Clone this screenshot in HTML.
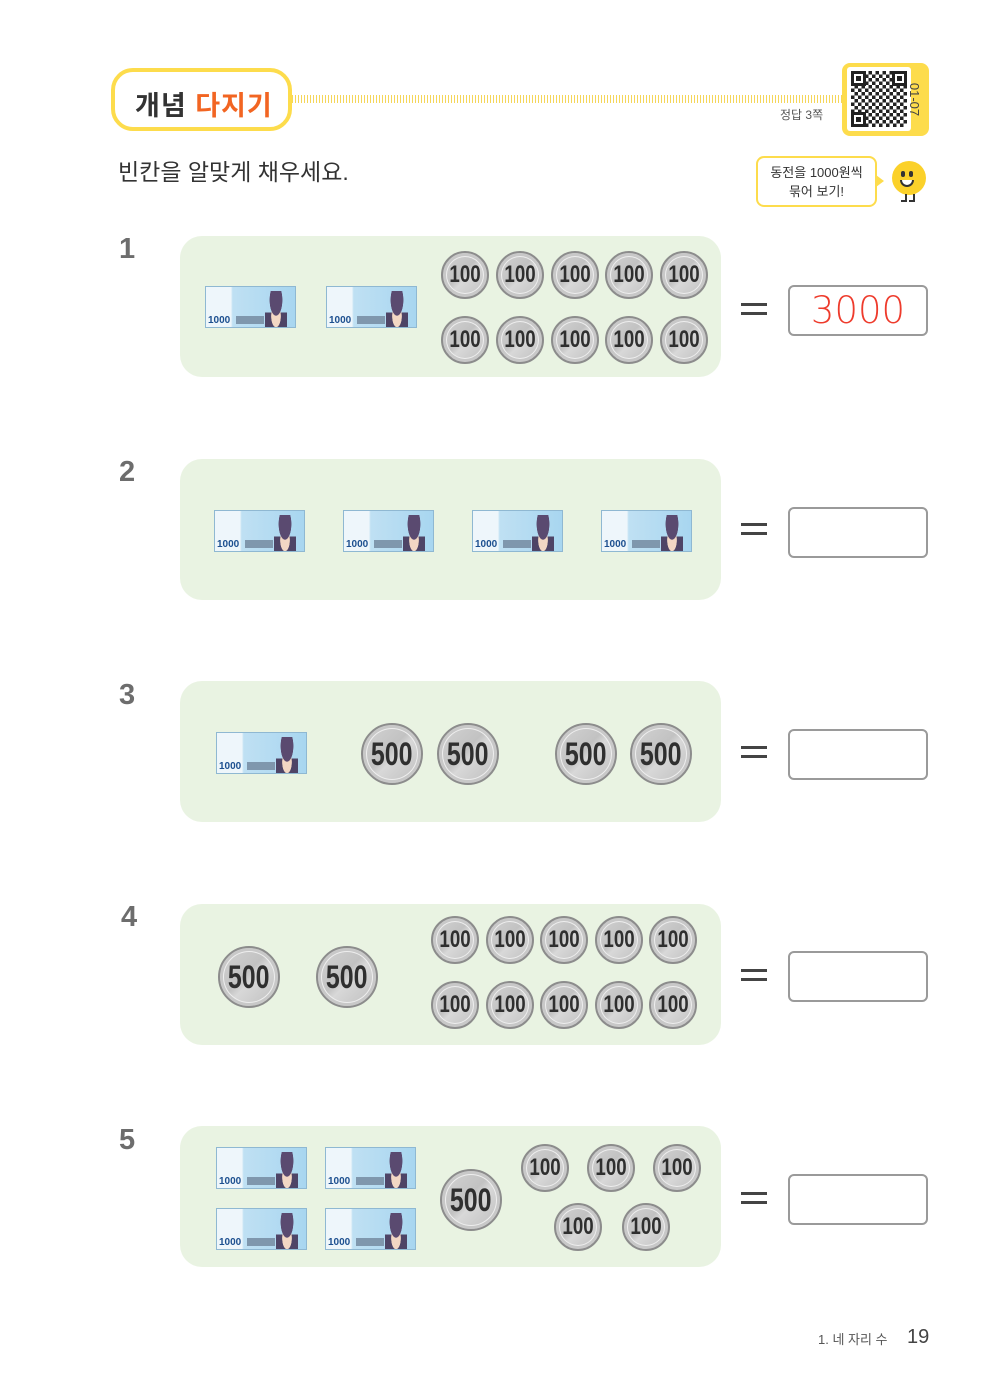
<!DOCTYPE html>
<html><head><meta charset="utf-8">
<style>
*{margin:0;padding:0;box-sizing:border-box}
body{width:990px;height:1400px;background:#fff;position:relative;overflow:hidden;font-family:"Liberation Sans","Noto Sans CJK KR",sans-serif;}
.a{position:absolute}
.panel{position:absolute;left:180px;width:541px;height:141px;background:#e9f3e2;border-radius:22px}
.num{position:absolute;left:119px;font-size:29px;font-weight:bold;color:#6d6d6d}
.eq{position:absolute;left:741px;width:26px;height:12px;border-top:3px solid #444;border-bottom:3px solid #444}
.box{position:absolute;left:788px;width:140px;height:51px;border:2px solid #9a9a9a;border-radius:6px;background:#fff}
.note{position:absolute;width:91px;height:42px;border:1px solid #8fb8d2;background:linear-gradient(90deg,#eef6fb 0,#eef6fb 28%,#bfe0f3 30%,#a8d6f0 100%);overflow:hidden}
.note b{position:absolute;left:2px;bottom:1px;font-size:10px;color:#1c4f8f;font-weight:bold}
.note i{position:absolute;right:8px;top:4px;width:22px;height:36px;background:radial-gradient(ellipse at 50% 25%,#5a4a70 0 40%,transparent 42%),radial-gradient(ellipse at 50% 70%,#f2d7c4 0 30%,transparent 32%),linear-gradient(#fff0 60%,#4e4466 60%)}
.note u{position:absolute;left:30px;bottom:3px;width:28px;height:8px;background:#7f97ad;text-decoration:none}
.coin{position:absolute;border-radius:50%;background:linear-gradient(135deg,#d4d4d4 0,#c2c2c2 45%,#d8d8d8 55%,#bdbdbd 100%);border:2px solid #8c8c8c;box-shadow:inset 0 0 0 3px #c8c8c8,inset 0 0 0 4px #eee;display:flex;align-items:center;justify-content:center;font-family:"Liberation Sans",sans-serif;font-weight:bold;color:#2f2f2f}
.coin span{display:inline-block;transform:scaleX(0.78)}
.c1{width:48px;height:48px;font-size:24px}
.c5{width:62px;height:62px;font-size:32px}
</style></head><body>

<div class="a" style="left:292px;top:95px;width:552px;height:8px;background:repeating-linear-gradient(90deg,#f5d65a 0 1px,#fff 1px 3px)"></div>
<div class="a" style="left:111px;top:68px;width:181px;height:63px;border:4px solid #fddc4c;border-radius:22px;background:#fff;font-size:27px;font-weight:bold;color:#333;padding:12px 0 0 20px;letter-spacing:1px">개념 <span style="color:#f26522">다지기</span></div>
<div class="a" style="left:780px;top:106px;font-size:12px;color:#555">정답 3쪽</div>
<div class="a" style="left:842px;top:63px;width:87px;height:73px;background:#fddc4c;border-radius:8px"></div>
<div class="a" style="left:847px;top:67px;width:64px;height:64px;background:#fff;border-radius:3px"></div>
<div class="a" style="left:851px;top:71px;width:56px;height:56px;background:repeating-conic-gradient(#222 0 25%,#fff 0 50%) 0 0/7px 7px"></div>
<div class="a" style="left:851px;top:71px;width:15px;height:15px;border:3px solid #222;background:#fff;box-shadow:inset 0 0 0 2px #fff,inset 0 0 0 6px #222"></div>
<div class="a" style="left:892px;top:71px;width:15px;height:15px;border:3px solid #222;background:#fff;box-shadow:inset 0 0 0 2px #fff,inset 0 0 0 6px #222"></div>
<div class="a" style="left:851px;top:112px;width:15px;height:15px;border:3px solid #222;background:#fff;box-shadow:inset 0 0 0 2px #fff,inset 0 0 0 6px #222"></div>
<div class="a" style="left:898px;top:92px;font-size:13px;color:#444;transform:rotate(90deg);transform-origin:center">01-07</div>

<div class="a" style="left:118px;top:153px;font-size:23px;color:#333">빈칸을 알맞게 채우세요.</div>

<div class="a" style="left:756px;top:156px;width:121px;height:51px;border:2px solid #fddc4c;border-radius:8px;background:#fff;font-size:13px;color:#333;text-align:center;line-height:19px;padding-top:5px">동전을 1000원씩<br>묶어 보기!</div>
<div class="a" style="left:876px;top:175px;width:0;height:0;border-top:6px solid transparent;border-bottom:6px solid transparent;border-left:8px solid #fddc4c"></div>
<div class="a" style="left:892px;top:161px;width:34px;height:34px;border-radius:50%;background:#fbd12a"></div>
<div class="a" style="left:901px;top:171px;width:4px;height:6px;background:#333;border-radius:2px"></div>
<div class="a" style="left:909px;top:171px;width:4px;height:6px;background:#333;border-radius:2px"></div>
<div class="a" style="left:900px;top:180px;width:14px;height:7px;border:2px solid #333;border-top:none;border-radius:0 0 7px 7px;background:#fff"></div>
<div class="a" style="left:901px;top:194px;width:6px;height:8px;border-right:2px solid #333;border-bottom:2px solid #333"></div>
<div class="a" style="left:909px;top:194px;width:6px;height:8px;border-right:2px solid #333;border-bottom:2px solid #333"></div>

<div class="num" style="top:233px">1</div>
<div class="panel" style="top:236px"></div>
<div class="note" style="left:205px;top:286px"><b>1000</b><u></u><i></i></div>
<div class="note" style="left:326px;top:286px"><b>1000</b><u></u><i></i></div>
<div class="coin c1" style="left:441px;top:251px"><span>100</span></div><div class="coin c1" style="left:496px;top:251px"><span>100</span></div><div class="coin c1" style="left:551px;top:251px"><span>100</span></div><div class="coin c1" style="left:605px;top:251px"><span>100</span></div><div class="coin c1" style="left:660px;top:251px"><span>100</span></div>
<div class="coin c1" style="left:441px;top:316px"><span>100</span></div><div class="coin c1" style="left:496px;top:316px"><span>100</span></div><div class="coin c1" style="left:551px;top:316px"><span>100</span></div><div class="coin c1" style="left:605px;top:316px"><span>100</span></div><div class="coin c1" style="left:660px;top:316px"><span>100</span></div>
<div class="eq" style="top:303px"></div>
<div class="box" style="top:285px;text-align:center;font-size:37px;color:#ee3b2c;line-height:47px;font-family:'DejaVu Sans',sans-serif;font-weight:300">3000</div>

<div class="num" style="top:456px">2</div>
<div class="panel" style="top:459px"></div>
<div class="note" style="left:214px;top:510px"><b>1000</b><u></u><i></i></div>
<div class="note" style="left:343px;top:510px"><b>1000</b><u></u><i></i></div>
<div class="note" style="left:472px;top:510px"><b>1000</b><u></u><i></i></div>
<div class="note" style="left:601px;top:510px"><b>1000</b><u></u><i></i></div>
<div class="eq" style="top:523px"></div>
<div class="box" style="top:507px"></div>

<div class="num" style="top:679px">3</div>
<div class="panel" style="top:681px"></div>
<div class="note" style="left:216px;top:732px"><b>1000</b><u></u><i></i></div>
<div class="coin c5" style="left:361px;top:723px"><span>500</span></div>
<div class="coin c5" style="left:437px;top:723px"><span>500</span></div>
<div class="coin c5" style="left:555px;top:723px"><span>500</span></div>
<div class="coin c5" style="left:630px;top:723px"><span>500</span></div>
<div class="eq" style="top:746px"></div>
<div class="box" style="top:729px"></div>

<div class="num" style="top:901px;left:121px">4</div>
<div class="panel" style="top:904px"></div>
<div class="coin c5" style="left:218px;top:946px"><span>500</span></div>
<div class="coin c5" style="left:316px;top:946px"><span>500</span></div>
<div class="coin c1" style="left:431px;top:916px"><span>100</span></div><div class="coin c1" style="left:486px;top:916px"><span>100</span></div><div class="coin c1" style="left:540px;top:916px"><span>100</span></div><div class="coin c1" style="left:595px;top:916px"><span>100</span></div><div class="coin c1" style="left:649px;top:916px"><span>100</span></div>
<div class="coin c1" style="left:431px;top:981px"><span>100</span></div><div class="coin c1" style="left:486px;top:981px"><span>100</span></div><div class="coin c1" style="left:540px;top:981px"><span>100</span></div><div class="coin c1" style="left:595px;top:981px"><span>100</span></div><div class="coin c1" style="left:649px;top:981px"><span>100</span></div>
<div class="eq" style="top:969px"></div>
<div class="box" style="top:951px"></div>

<div class="num" style="top:1124px">5</div>
<div class="panel" style="top:1126px"></div>
<div class="note" style="left:216px;top:1147px"><b>1000</b><u></u><i></i></div>
<div class="note" style="left:325px;top:1147px"><b>1000</b><u></u><i></i></div>
<div class="note" style="left:216px;top:1208px"><b>1000</b><u></u><i></i></div>
<div class="note" style="left:325px;top:1208px"><b>1000</b><u></u><i></i></div>
<div class="coin c5" style="left:440px;top:1169px"><span>500</span></div>
<div class="coin c1" style="left:521px;top:1144px"><span>100</span></div><div class="coin c1" style="left:587px;top:1144px"><span>100</span></div><div class="coin c1" style="left:653px;top:1144px"><span>100</span></div>
<div class="coin c1" style="left:554px;top:1203px"><span>100</span></div><div class="coin c1" style="left:622px;top:1203px"><span>100</span></div>
<div class="eq" style="top:1192px"></div>
<div class="box" style="top:1174px"></div>

<div class="a" style="left:818px;top:1329px;font-size:13px;color:#555">1. 네 자리 수</div>
<div class="a" style="left:907px;top:1326px;font-size:20px;color:#444">19</div>
</body></html>
